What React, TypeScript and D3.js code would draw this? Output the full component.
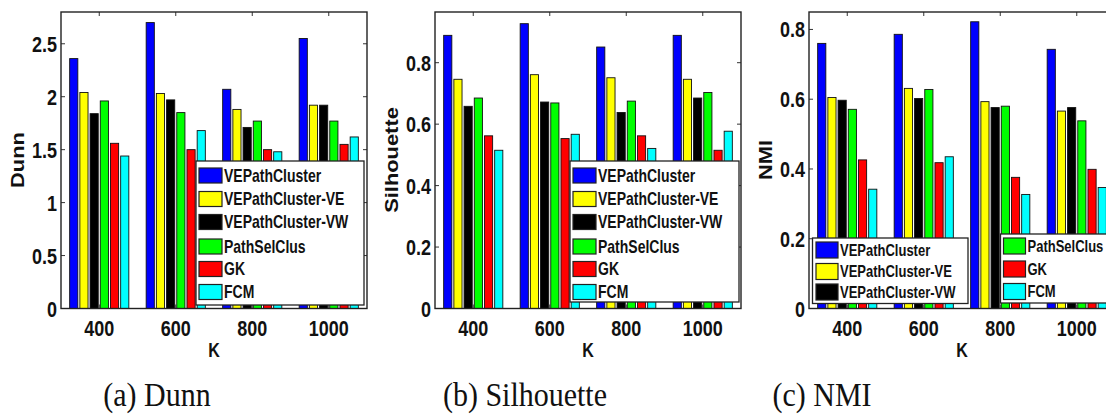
import React from 'react';
import * as d3 from 'd3';

const categories = ['400', '600', '800', '1000'];
const methods = ['VEPathCluster', 'VEPathCluster-VE', 'VEPathCluster-VW', 'PathSelClus', 'GK', 'FCM'];
const colors = ['#0000ff', '#ffff00', '#000000', '#00ff00', '#ff0000', '#00ffff'];

// rows = K (400, 600, 800, 1000), columns = methods
const dunnValues = [
  [2.36, 2.04, 1.84, 1.96, 1.56, 1.44],
  [2.70, 2.03, 1.97, 1.85, 1.50, 1.68],
  [2.07, 1.88, 1.71, 1.77, 1.50, 1.48],
  [2.55, 1.92, 1.92, 1.77, 1.55, 1.62],
];
const silhouetteValues = [
  [0.889, 0.746, 0.658, 0.685, 0.562, 0.515],
  [0.927, 0.761, 0.672, 0.669, 0.553, 0.567],
  [0.851, 0.751, 0.638, 0.675, 0.562, 0.521],
  [0.889, 0.746, 0.685, 0.703, 0.515, 0.577],
];
const nmiValues = [
  [0.760, 0.605, 0.597, 0.571, 0.426, 0.342],
  [0.786, 0.631, 0.602, 0.628, 0.418, 0.435],
  [0.822, 0.593, 0.576, 0.580, 0.376, 0.327],
  [0.743, 0.566, 0.576, 0.538, 0.399, 0.347],
];

const dunnTicks = [0, 0.5, 1, 1.5, 2, 2.5];
const silTicks = [0, 0.2, 0.4, 0.6, 0.8];
const nmiTicks = [0, 0.2, 0.4, 0.6, 0.8];

const SANS = '"Liberation Sans", Arial, Helvetica, sans-serif';
const SERIF = '"Liberation Serif", "Times New Roman", serif';
const SY = 1.25;

const T = ({ x, y, size, anchor = 'start', rotate = false, family = SANS, weight = 'bold', sy = SY, children }: any) => (
  <text
    transform={`translate(${x},${y}) scale(1,${sy})${rotate ? ' rotate(-90)' : ''}`}
    fontSize={size}
    fontFamily={family}
    fontWeight={weight}
    textAnchor={anchor}
    fill="#111"
  >
    {children}
  </text>
);

const Legend = ({ x, y, w, h, items, rowY, swX, swW, swH, textX, size }: any) => (
  <g>
    <rect x={x} y={y} width={w} height={h} fill="#fff" stroke="#222" strokeWidth={1.3} />
    {items.map((i: number, k: number) => (
      <g key={i}>
        <rect x={swX} y={rowY[k] - swH / 2} width={swW} height={swH} fill={colors[i]} stroke="#222" strokeWidth={1.2} />
        <T x={textX} y={rowY[k] + size * 0.716 * SY / 2} size={size}>{methods[i]}</T>
      </g>
    ))}
  </g>
);

const Panel = ({ left, values, yMax, ticks, label, caption, capX, legends }: any) => {
  const top = 12, bottom = 308.5, width = 306;
  const x = d3.scaleLinear().domain([0.5, 4.5]).range([left, left + width]);
  const y = d3.scaleLinear().domain([0, yMax]).range([bottom, top]);
  const inner = d3.scaleBand<string>().domain(methods).range([-0.4, 0.4]).paddingInner(0.2).paddingOuter(0.1);
  const bw = x(inner.bandwidth()) - x(0);
  const clipId = `clip-${label}`;
  return (
    <g>
      <clipPath id={clipId}>
        <rect x={left} y={top} width={width} height={bottom - top} />
      </clipPath>
      <g clipPath={`url(#${clipId})`}>
        {values.map((row: number[], ci: number) =>
          row.map((v, mi) => (
            <rect
              key={`${ci}-${mi}`}
              x={x(ci + 1 + (inner(methods[mi]) as number))}
              y={y(v)}
              width={bw}
              height={y(0) - y(v)}
              fill={colors[mi]}
              stroke="#111"
              strokeWidth={0.9}
            />
          ))
        )}
      </g>
      {/* ticks */}
      {ticks.map((t: number) => (
        <g key={t}>
          <line x1={left} x2={left + 4} y1={y(t)} y2={y(t)} stroke="#333" />
          <line x1={left + width} x2={left + width - 4} y1={y(t)} y2={y(t)} stroke="#333" />
          <T x={left - 4} y={y(t) + 18 * 0.716 * SY / 2} size={18} anchor="end">{d3.format('~g')(t)}</T>
        </g>
      ))}
      {categories.map((c, ci) => (
        <g key={c}>
          <line x1={x(ci + 1)} x2={x(ci + 1)} y1={top} y2={top + 4} stroke="#333" />
          <line x1={x(ci + 1)} x2={x(ci + 1)} y1={bottom} y2={bottom - 4} stroke="#333" />
          <T x={x(ci + 1)} y={335.5} size={18} anchor="middle">{c}</T>
        </g>
      ))}
      <rect x={left} y={top} width={width} height={bottom - top} fill="none" stroke="#222" strokeWidth={1.4} />
      {legends.map((lg: any, k: number) => <Legend key={k} {...lg} />)}
      <T x={left + width / 2} y={357} size={16} anchor="middle">K</T>
      <T x={left - 43 + 6.3} y={160} size={17.5} anchor="middle" rotate>{label}</T>
      <T x={capX} y={406} size={30} anchor="middle" family={SERIF} weight="normal" sy={1.1}>{caption}</T>
    </g>
  );
};

const rows6 = [175.5, 199, 222, 246.5, 269, 292];

export default function App() {
  return (
    <svg width={1106} height={415} style={{ position: 'absolute', left: 0, top: 0, background: '#fff' }}>
      <Panel
        left={61}
        values={dunnValues}
        yMax={2.8}
        ticks={dunnTicks}
        label="Dunn"
        caption="(a) Dunn"
        capX={157}
        legends={[{ x: 196, y: 161, w: 168, h: 144, items: [0, 1, 2, 3, 4, 5], rowY: rows6, swX: 199, swW: 23, swH: 15, textX: 224, size: 14 }]}
      />
      <Panel
        left={435}
        values={silhouetteValues}
        yMax={0.965}
        ticks={silTicks}
        label="Silhouette"
        caption="(b) Silhouette"
        capX={525}
        legends={[{ x: 570, y: 161, w: 169, h: 141, items: [0, 1, 2, 3, 4, 5], rowY: rows6, swX: 573, swW: 23, swH: 15, textX: 598, size: 14 }]}
      />
      <Panel
        left={809}
        values={nmiValues}
        yMax={0.85}
        ticks={nmiTicks}
        label="NMI"
        caption="(c) NMI"
        capX={822}
        legends={[
          { x: 812.5, y: 238, w: 155.5, h: 65.5, items: [0, 1, 2], rowY: [250, 271.5, 292], swX: 816, swW: 22, swH: 16, textX: 840, size: 13 },
          { x: 1000.5, y: 234, w: 130, h: 69, items: [3, 4, 5], rowY: [246, 269, 291.5], swX: 1003.5, swW: 22, swH: 16, textX: 1027.5, size: 13 },
        ]}
      />
    </svg>
  );
}
